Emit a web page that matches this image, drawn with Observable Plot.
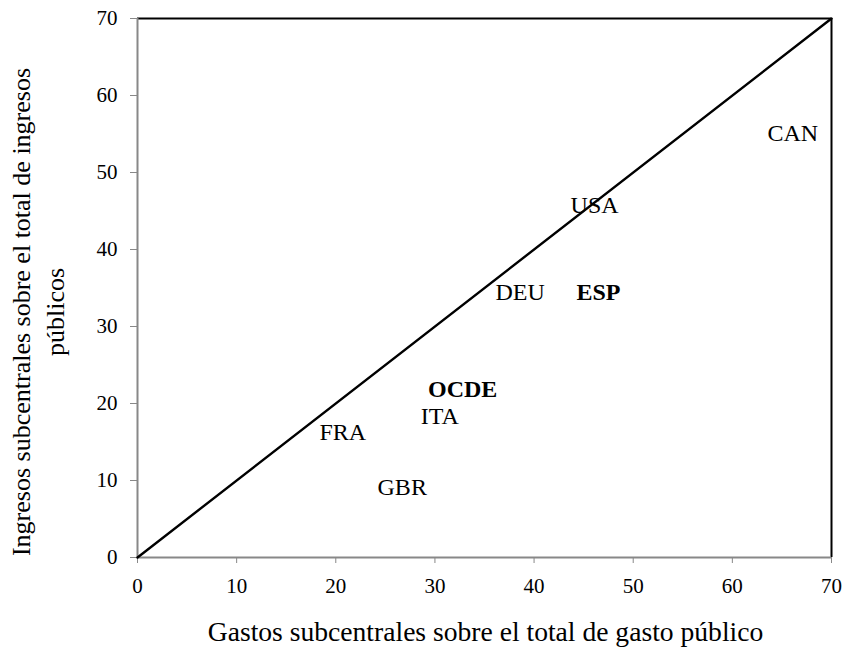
<!DOCTYPE html>
<html>
<head>
<meta charset="utf-8">
<script src="https://cdn.jsdelivr.net/npm/d3@7"></script>
<script src="https://cdn.jsdelivr.net/npm/@observablehq/plot@0.6"></script>
<style>
  body { margin: 0; background: #fff; }
  svg { display: block; }
</style>
</head>
<body>
<div id="chart"></div>
<script>
const countries = ["CAN", "USA", "DEU", "ESP", "OCDE", "ITA", "FRA", "GBR"];
const gasto     = [66.1, 46.1, 38.6, 46.5, 32.8, 30.5, 20.7, 26.7];
const ingresos  = [55.1, 45.8, 34.4, 34.4, 21.8, 18.4, 16.2, 9.1];
const bold      = [false, false, false, true, true, false, false, false];
const xTicks = [0, 10, 20, 30, 40, 50, 60, 70];
const yTicks = [0, 10, 20, 30, 40, 50, 60, 70];
const diagX = [0, 70];
const diagY = [0, 70];
const xTitle = "Gastos subcentrales sobre el total de gasto público";
const yTitle1 = "Ingresos subcentrales sobre el total de ingresos";
const yTitle2 = "públicos";

const pts = countries.map((c, i) => ({c, x: gasto[i], y: ingresos[i], b: bold[i]}));
const diag = diagX.map((x, i) => ({x, y: diagY[i]}));
const font = "'Liberation Serif', 'Times New Roman', serif";

const chart = Plot.plot({
  width: 842,
  height: 648,
  marginLeft: 137,
  marginRight: 11,
  marginTop: 18,
  marginBottom: 91,
  style: {fontFamily: font, fontSize: "21px", color: "black", background: "white"},
  x: {domain: [0, 70]},
  y: {domain: [0, 70]},
  marks: [
    Plot.axisX({ticks: xTicks, tickSize: 6, tickPadding: 15, stroke: "#888", fill: "black", fontSize: 21, fontFamily: font, label: null, tickFormat: d => d}),
    Plot.axisY({ticks: yTicks, tickSize: 7, tickPadding: 13, stroke: "#888", fill: "black", fontSize: 21, fontFamily: font, label: null, tickFormat: d => d}),
    Plot.ruleX([70], {stroke: "black", strokeWidth: 2}),
    Plot.ruleY([70], {stroke: "black", strokeWidth: 2}),
    Plot.ruleX([0], {stroke: "#888", strokeWidth: 2}),
    Plot.ruleY([0], {stroke: "#888", strokeWidth: 2}),
    Plot.line(diag, {x: "x", y: "y", stroke: "black", strokeWidth: 2.4}),
    Plot.text(pts.filter(d => !d.b), {x: "x", y: "y", text: "c", fontSize: 24, fontFamily: font, fill: "black"}),
    Plot.text(pts.filter(d => d.b), {x: "x", y: "y", text: "c", fontSize: 24, fontFamily: font, fontWeight: "bold", fill: "black"}),
    Plot.text([xTitle], {frameAnchor: "bottom", textAnchor: "middle", lineAnchor: "middle", dy: 75, dx: 1, text: d => d, fontSize: 27.6, fontFamily: font, fill: "black"}),
    Plot.text([yTitle1], {frameAnchor: "left", textAnchor: "middle", lineAnchor: "middle", dx: -116, dy: 24, rotate: -90, text: d => d, fontSize: 26, fontFamily: font, fill: "black"}),
    Plot.text([yTitle2], {frameAnchor: "left", textAnchor: "middle", lineAnchor: "middle", dx: -82, dy: 24, rotate: -90, text: d => d, fontSize: 26, fontFamily: font, fill: "black"})
  ]
});
document.getElementById("chart").appendChild(chart);
</script>
</body>
</html>
